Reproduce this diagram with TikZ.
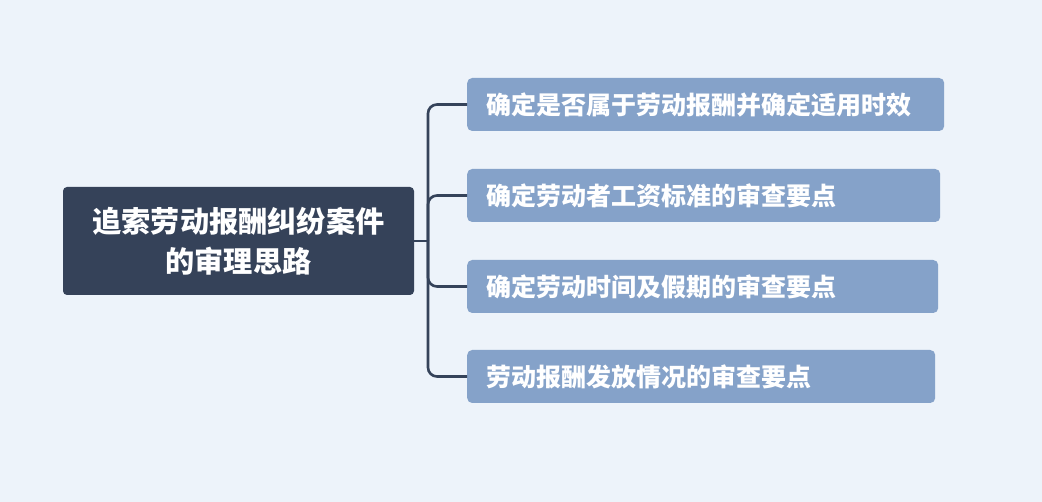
\documentclass[tikz,border=0pt]{standalone}
\usepackage{fontspec}
\newfontfamily\cjk{Noto Sans CJK SC}
\definecolor{bg}{HTML}{EDF3FA}
\definecolor{rootfill}{HTML}{354259}
\definecolor{childfill}{HTML}{85A2C9}
\definecolor{linec}{HTML}{35435A}
\tikzset{
  rootbox/.style={fill=rootfill, rounded corners=4pt, minimum width=351pt, minimum height=108pt,
    text=white, font=\cjk\bfseries\fontsize{29.2}{40}\selectfont, align=center, inner sep=0pt},
  childbox/.style={fill=childfill, rounded corners=5pt, minimum height=53pt, anchor=west,
    text=white, font=\cjk\bfseries\fontsize{25}{30}\selectfont, align=left, inner xsep=19pt, inner ysep=0pt},
  conn/.style={draw=linec, line width=2.6pt, rounded corners=9pt}
}
\begin{document}
\begin{tikzpicture}[x=1pt,y=-1pt]
\fill[bg] (0,0) rectangle (1042,502);
\useasboundingbox (0,0) rectangle (1042,502);
\node[rootbox] (root) at (238.5,241) {追索劳动报酬纠纷案件\\的审理思路};
\node[childbox, text width=439pt] (c1) at (467,104.5) {确定是否属于劳动报酬并确定适用时效};
\node[childbox, text width=435pt] (c2) at (467,195.5) {确定劳动者工资标准的审查要点};
\node[childbox, text width=433pt] (c3) at (467,286.5) {确定劳动时间及假期的审查要点};
\node[childbox, text width=430pt] (c4) at (467,376.5) {劳动报酬发放情况的审查要点};
\coordinate (j) at (428,241);
\draw[conn] (root.east) -- (j);
\draw[conn] (j) |- (c1.west);
\draw[conn] (j) |- (c2.west);
\draw[conn] (j) |- (c3.west);
\draw[conn] (j) |- (c4.west);
\end{tikzpicture}
\end{document}
